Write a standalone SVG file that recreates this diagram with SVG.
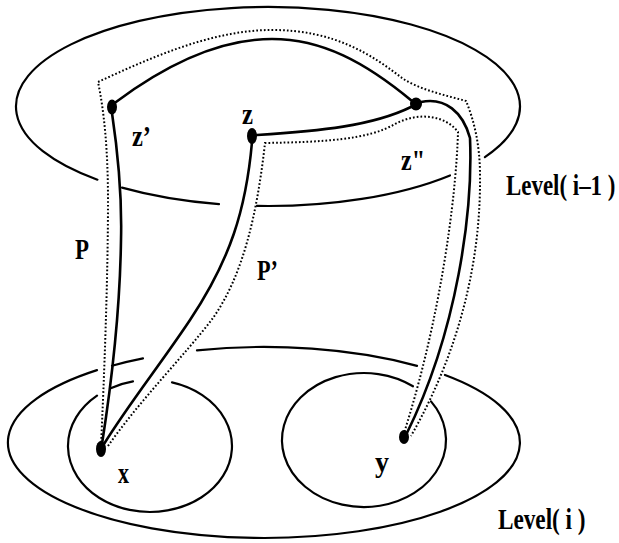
<svg xmlns="http://www.w3.org/2000/svg" width="619" height="543" viewBox="0 0 619 543">
  <style>
    .rim { fill: none; stroke: #000; stroke-width: 2.2; stroke-linecap: round; }
    .path { fill: none; stroke: #000; stroke-width: 2.6; stroke-linecap: round; }
    .dots { fill: none; stroke: #000; stroke-width: 2; stroke-dasharray: 1.7 2.1; }
    .dot { fill: #000; }
    .lbl { font-family: "Liberation Serif", "Times New Roman", serif; font-weight: bold; font-size: 29px; fill: #000; }
  </style>
  <rect width="619" height="543" fill="#fff"/>

  <!-- upper level, broken where the ribbons pass in front -->
  <g id="level-prev">
    <path class="rim" d="M484.9,157.1 A252,99.5 0 1 0 97.4,179.7"/>
    <path class="rim" d="M122,187.6 A252,99.5 0 0 0 219,204.1"/>
    <path class="rim" d="M257,205.9 A252,99.5 0 0 0 450,175.4"/>
    <text class="lbl" transform="translate(506,195) scale(0.79,1)">Level( i–1 )</text>
  </g>

  <!-- lower level -->
  <g id="level-cur">
    <path class="rim" d="M97,370.1 A256,95.5 0 1 0 445,375"/>
    <path class="rim" d="M417,365.9 A256,95.5 0 0 0 197,350.3"/>
    <path class="rim" d="M143,358.4 A256,95.5 0 0 0 112,365.7"/>
    <text class="lbl" transform="translate(498,529) scale(0.8,1)">Level( i )</text>
  </g>

  <!-- cluster around x -->
  <g id="cluster-x">
    <path class="rim" d="M97,395.6 A82,66 0 1 0 172,382.4"/>
    <path class="rim" d="M110,388.4 A82,66 0 0 1 133,381.4"/>
  </g>

  <!-- cluster around y -->
  <g id="cluster-y">
    <path class="rim" d="M413,386.3 A82,67 0 1 0 431,401.4"/>
  </g>

  <!-- connectors: solid paths and their dotted outlines -->
  <g id="connectors">
    <path class="path" d="M116,102 C175,58 225,39 272,39 C322,39 365,62 412,101"/>
    <path class="path" d="M257,135 C320,131 372,126 411,107"/>
    <path class="path" d="M421,102 C445,97 463,112 470,138 C473,210 458,330 406,435"/>
    <path class="path" d="M112,113 C119,160 122,200 121,240 C120,310 112,380 102,444"/>
    <path class="path" d="M252,142 C246,210 230,260 190,320 C160,365 128,405 104,444"/>
    <path class="dots" d="M101,446 C104,380 108,280 108,200 C108,150 104,110 98,82 C150,58 212,30 272,30 C335,30 372,55 402,78 C420,90 445,95 466,101 C474,120 480,145 480,175 C481,260 460,350 411,436"/>
    <path class="dots" d="M108,446 C140,400 185,355 213,318 C243,275 257,215 265,143 C322,142 368,140 395,124 C420,111 446,116 458,132 C456,200 440,320 404,433"/>
  </g>

  <g id="node-z1">
    <ellipse class="dot" cx="112" cy="107" rx="5" ry="7.5"/>
    <text class="lbl" x="132" y="146" textLength="19" lengthAdjust="spacingAndGlyphs">z’</text>
  </g>
  <g id="node-z">
    <ellipse class="dot" cx="252" cy="136" rx="5" ry="8"/>
    <text class="lbl" x="242" y="124" textLength="11" lengthAdjust="spacingAndGlyphs">z</text>
  </g>
  <g id="node-z2">
    <ellipse class="dot" cx="416" cy="104" rx="6" ry="6.5"/>
    <text class="lbl" x="401" y="170" textLength="24" lengthAdjust="spacingAndGlyphs">z"</text>
  </g>
  <g id="node-x">
    <ellipse class="dot" cx="101" cy="449" rx="5" ry="8"/>
    <text class="lbl" x="118" y="483" textLength="11" lengthAdjust="spacingAndGlyphs">x</text>
  </g>
  <g id="node-y">
    <ellipse class="dot" cx="404" cy="437" rx="5" ry="7"/>
    <text class="lbl" x="375" y="472" textLength="14" lengthAdjust="spacingAndGlyphs">y</text>
  </g>
  <g id="label-p">
    <text class="lbl" x="75" y="259" textLength="14" lengthAdjust="spacingAndGlyphs">P</text>
  </g>
  <g id="label-p1">
    <text class="lbl" x="257" y="280" textLength="21" lengthAdjust="spacingAndGlyphs">P’</text>
  </g>
</svg>
